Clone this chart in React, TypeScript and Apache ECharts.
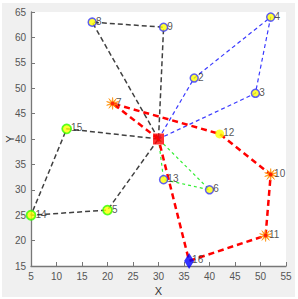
import React, { useEffect, useRef } from "react";
import * as echarts from "echarts";

// Depot (centre) and customer nodes
const depot: [number, number] = [30, 40];
const nodeIds = [2, 3, 4, 5, 6, 7, 8, 9, 10, 11, 12, 13, 14, 15, 16];
const nodeX = [37, 49, 52, 20, 40, 21, 17, 31, 52, 51, 42, 31, 5, 12, 36];
const nodeY = [52, 49, 64, 26, 30, 47, 63, 62, 33, 21, 41, 32, 25, 42, 16];

// Routes (each starts and ends at the depot)
const routeBlackA = [8, 9];
const routeBlackB = [15, 14, 5];
const routeBlue = [2, 4, 3];
const routeGreen = [13, 6];
const routeRed = [7, 12, 10, 11, 16];

// Marker groups
const blueRing = [2, 3, 4, 6, 8, 9, 13];
const greenRing = [5, 14, 15];
const plainYellow = [12];
const starNodes = [7, 10, 11];
const diamondNodes = [16];

// Axis ticks
const xMin = 5, xMax = 55, xStep = 5;
const yMin = 15, yMax = 65, yStep = 5;

const pt = (id: number): [number, number, number] => {
  const i = nodeIds.indexOf(id);
  return [nodeX[i], nodeY[i], id];
};
const routeData = (r: number[]) => [
  [depot[0], depot[1]],
  ...r.map((id) => pt(id).slice(0, 2)),
  [depot[0], depot[1]],
];

// star symbol (asterisk-like burst)
const starPath = (() => {
  const n = 10;
  const pts: string[] = [];
  for (let k = 0; k < n * 2; k++) {
    const a = (Math.PI * k) / n - Math.PI / 2;
    const r = k % 2 === 0 ? 50 : 14;
    pts.push(`${(50 + r * Math.cos(a)).toFixed(2)} ${(50 + r * Math.sin(a)).toFixed(2)}`);
  }
  return "path://M" + pts.join(" L") + " Z";
})();

const labelFont = "Liberation Sans, Arial, sans-serif";

export default function App() {
  const ref = useRef<HTMLDivElement>(null);
  useEffect(() => {
    if (!ref.current) return;
    const chart = echarts.init(ref.current, null, { renderer: "svg" });
    const lineSeries = (data: any[], color: string, width: number, dash: number[]) => ({
      type: "line",
      data,
      symbol: "none",
      silent: true,
      z: 1,
      lineStyle: { color, width, type: dash },
    });
    const mkLabel = (dist: number) => ({
      show: true,
      position: "right",
      distance: dist,
      offset: [0, -1],
      formatter: (p: any) => String(p.value[2]),
      fontSize: 10,
      color: "#262626",
      fontFamily: labelFont,
    });
    chart.setOption({
      animation: false,
      backgroundColor: "#f0f0f0",
      grid: {
        show: true,
        backgroundColor: "#ffffff",
        borderWidth: 0,
        left: 29,
        top: 9,
        right: 9,
        bottom: 31,
        containLabel: false,
        outerBoundsMode: "none",
      },
      xAxis: {
        type: "value",
        min: xMin,
        max: xMax,
        interval: xStep,
        name: "X",
        nameLocation: "middle",
        nameGap: 19,
        nameMoveOverlap: false,
        nameTextStyle: { fontSize: 11, color: "#333", fontFamily: labelFont },
        axisLine: { show: true, onZero: false, lineStyle: { color: "#777", width: 1.3 } },
        axisTick: { show: true, inside: true, length: 4, lineStyle: { color: "#777" } },
        axisLabel: { fontSize: 10, color: "#555", margin: 5, fontFamily: labelFont },
        splitLine: { show: false },
      },
      yAxis: {
        type: "value",
        min: yMin,
        max: yMax,
        interval: yStep,
        name: "Y",
        nameLocation: "middle",
        nameGap: 16,
        nameMoveOverlap: false,
        nameTextStyle: { fontSize: 11, color: "#333", fontFamily: labelFont },
        axisLine: { show: true, onZero: false, lineStyle: { color: "#777", width: 1.3 } },
        axisTick: { show: true, inside: true, length: 4, lineStyle: { color: "#777" } },
        axisLabel: { fontSize: 10, color: "#555", margin: 5, fontFamily: labelFont },
        splitLine: { show: false },
      },
      series: [
        lineSeries(routeData(routeBlackA), "#404040", 1.5, [5, 3]),
        lineSeries(routeData(routeBlackB), "#404040", 1.5, [5, 3]),
        lineSeries(routeData(routeBlue), "#3a3aff", 1.2, [4, 3]),
        lineSeries(routeData(routeGreen), "#33ee33", 1.2, [3, 3]),
        lineSeries(routeData(routeRed), "#ff0000", 2.5, [6, 4]),
        {
          type: "scatter",
          z: 3,
          data: blueRing.map(pt),
          symbol: "circle",
          symbolSize: 8,
          itemStyle: { color: "#ffff00", borderColor: "#3a3aff", borderWidth: 1.5 },
          label: mkLabel(-1),
        },
        {
          type: "scatter",
          z: 3,
          data: greenRing.map(pt),
          symbol: "circle",
          symbolSize: 9,
          itemStyle: { color: "#ffff00", borderColor: "#33ff00", borderWidth: 1.8 },
          label: mkLabel(-1),
        },
        {
          type: "scatter",
          z: 3,
          data: plainYellow.map(pt),
          symbol: "circle",
          symbolSize: 9,
          itemStyle: { color: "#ffff00" },
          label: mkLabel(-1),
        },
        {
          type: "scatter",
          z: 3,
          data: starNodes.map(pt),
          symbol: starPath,
          symbolSize: 12,
          itemStyle: { color: "#ffb000", borderColor: "#ff8a00", borderWidth: 0.8 },
          label: mkLabel(-3),
        },
        {
          type: "scatter",
          z: 4,
          data: starNodes.map(pt),
          symbol: "circle",
          symbolSize: 4,
          itemStyle: { color: "#ff0000" },
        },
        {
          type: "scatter",
          z: 4,
          data: diamondNodes.map(pt),
          symbol: "diamond",
          symbolSize: [10, 16],
          itemStyle: { color: "#0000ff" },
          label: mkLabel(-2),
        },
        {
          type: "scatter",
          z: 4,
          data: [[depot[0], depot[1]]],
          symbol: "rect",
          symbolSize: 11,
          itemStyle: { color: "#ff0000" },
        },
      ],
    });
    return () => chart.dispose();
  }, []);
  return (
    <div
      style={{
        position: "fixed",
        left: 0,
        top: 0,
        width: 298,
        height: 299,
        background: "#ffffff",
      }}
    >
      <div
        ref={ref}
        style={{ position: "absolute", left: 2, top: 3, width: 293, height: 294 }}
      />
    </div>
  );
}
